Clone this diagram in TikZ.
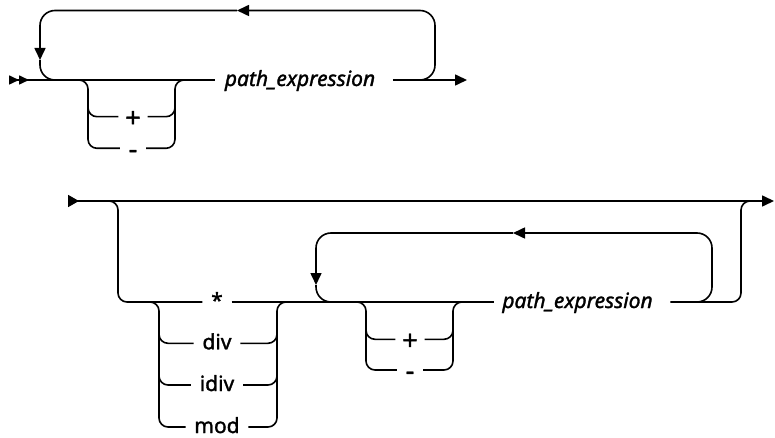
\documentclass[tikz,border=0pt]{standalone}
\usepackage{fontspec}
\setmainfont{Noto Sans}
\newfontfamily\railfont{Noto Sans}[FakeBold=1.5]
\usetikzlibrary{arrows.meta}
\begin{document}
\begin{tikzpicture}[x=1pt,y=-1pt,
  line width=1.6pt,
  rail/.style={draw, rounded corners=9pt},
  loopr/.style={draw, rounded corners=15pt},
  arr/.style={-{Triangle[length=12pt,width=11pt]}},
  bothend/.style={{Triangle[reversed,length=11pt,width=12pt]}-{Triangle[length=12pt,width=11pt]}},
  dblarr/.style={{Triangle[reversed,length=10pt,width=9pt]Triangle[reversed,length=10pt,width=9pt]}-},
  lbl/.style={inner xsep=8pt, inner ysep=0pt, text height=12pt, text depth=0pt, font=\railfont\fontsize{21}{24}\selectfont},
  plbl/.style={lbl, inner xsep=0pt, font=\railfont\fontsize{21}{24}\selectfont\itshape},
  plussym/.style={lbl, inner xsep=6pt, text height=21pt, font=\railfont\fontsize{27}{30}\selectfont},
  minussym/.style={lbl, inner xsep=8pt, text height=20pt, font=\railfont\fontsize{27}{30}\selectfont}]
\useasboundingbox (0,0) rectangle (775,438);

% ---------------- top diagram ----------------
\coordinate (t0) at (9,80);
\coordinate (t1) at (467,80);
\node[plbl] (pe1) at (300,80) {path\_expression};
\node[plussym] (plus1) at (133,116.7) {+};
\node[minussym] (minus1) at (133,148.3) {-};
\coordinate (tl1) at (405,80);
\coordinate (tl2) at (237,10.5);
\coordinate (tl3) at (40,60);
\coordinate (tl4) at (62,80);

\draw[dblarr] (t0) -- ([xshift=-9pt]pe1.west);
\draw[arr] ([xshift=17pt]pe1.east) -- (t1);
% repeat loop
\draw[loopr,arr] (tl1) -- (435,80) -- (435,10.5) -- (tl2);
\draw[loopr,arr] (tl2) -- (40,10.5) -- (tl3);
\draw[loopr] (tl3) -- (40,80) -- (tl4);
% sign branch
\draw[rail] (70,80) -- (88,80) -- (88,148.3) -- (minus1.west);
\draw[rail] (88,100) -- (88,116.7) -- (plus1.west);
\draw[rail] (minus1.east) -- (175,148.3) -- (175,80) -- (193,80);
\draw[rail] (plus1.east) -- (175,116.7) -- (175,100);

% ---------------- bottom diagram ----------------
\coordinate (b0) at (68,201);
\coordinate (b1) at (774,201);
\node[lbl] (star) at (217,302) {*};
\node[lbl] (div) at (217,343.3) {div};
\node[lbl] (idiv) at (217,385) {idiv};
\node[lbl] (mod) at (217,427) {mod};
\node[plbl] (pe2) at (577.5,302) {path\_expression};
\node[plussym] (plus2) at (410,339.3) {+};
\node[minussym] (minus2) at (410,370) {-};
\coordinate (bl1) at (690,302);
\coordinate (bl2) at (513,233);
\coordinate (bl3) at (316,285);
\coordinate (bl4) at (338,302);

\draw[bothend] (b0) -- (b1);
% optional branch
\draw[rail] (100,201) -- (118,201) -- (118,302) -- (star.west);
\draw (star.east) -- ([xshift=-8pt]pe2.west);
\draw[rail] ([xshift=17pt]pe2.east) -- (741,302) -- (741,201) -- (760,201);
% operator choice
\draw[rail] (140,302) -- (159,302) -- (159,427) -- (mod.west);
\draw[rail] (159,320) -- (159,343.3) -- (div.west);
\draw[rail] (159,360) -- (159,385) -- (idiv.west);
\draw[rail] (mod.east) -- (277,427) -- (277,302) -- (295,302);
\draw[rail] (div.east) -- (277,343.3) -- (277,320);
\draw[rail] (idiv.east) -- (277,385) -- (277,360);
% repeat loop
\draw[loopr,arr] (bl1) -- (712,302) -- (712,233) -- (bl2);
\draw[loopr,arr] (bl2) -- (316,233) -- (bl3);
\draw[loopr] (bl3) -- (316,302) -- (bl4);
% sign branch
\draw[rail] (348,302) -- (366,302) -- (366,370) -- (minus2.west);
\draw[rail] (366,320) -- (366,339.3) -- (plus2.west);
\draw[rail] (minus2.east) -- (453,370) -- (453,302) -- (471,302);
\draw[rail] (plus2.east) -- (453,339.3) -- (453,320);
\end{tikzpicture}
\end{document}
